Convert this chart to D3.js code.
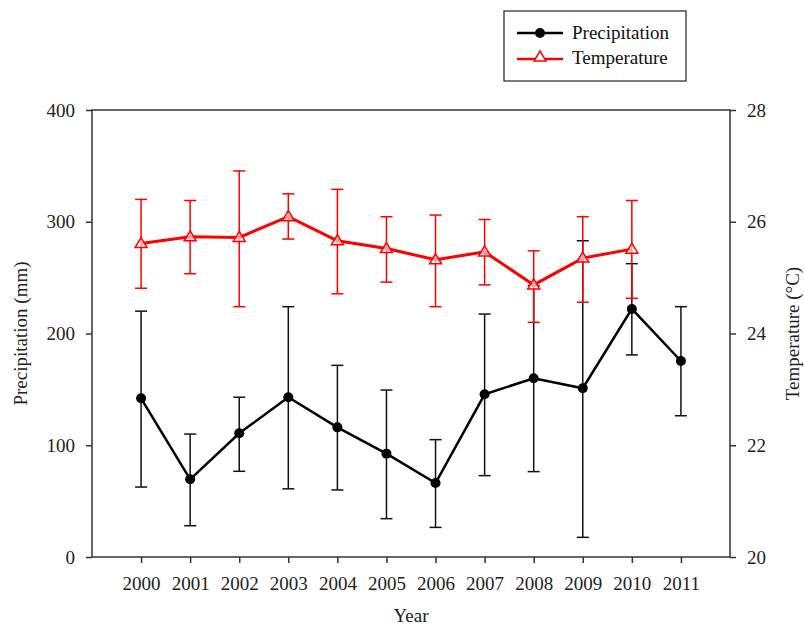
<!DOCTYPE html>
<html><head><meta charset="utf-8">
<script src="https://cdn.jsdelivr.net/npm/d3@7"></script>
<style>body{margin:0;background:#fff}svg{display:block}text{font-family:"Liberation Serif","Times New Roman",serif}</style>
</head><body>
<svg id="c" width="804" height="629"></svg>
<script>
const years = [2000,2001,2002,2003,2004,2005,2006,2007,2008,2009,2010,2011];
const precip = [142,69.5,110.7,143,116,92.5,66.2,145.6,160,151,222,175.4];
const precipHi = [220,110,143,224,171.5,149.4,105,217.4,243,283,262.5,224];
const precipLo = [62.6,28,76.7,61,60,34.3,26.5,72.8,76.4,17.6,180.8,126.4];
const tempYears = [2000,2001,2002,2003,2004,2005,2006,2007,2008,2009,2010];
const temp = [25.61,25.73,25.72,26.09,25.66,25.52,25.32,25.46,24.87,25.35,25.51];
const tempHi = [26.40,26.38,26.91,26.50,26.58,26.09,26.12,26.04,25.48,26.09,26.38];
const tempLo = [24.81,25.07,24.48,25.69,24.71,24.92,24.48,24.87,24.20,24.56,24.63];
const precipTicks = [0,100,200,300,400];
const tempTicks = [20,22,24,26,28];

const svg = d3.select("#c");
const L=92, R=730, T=110, B=557;
const x = d3.scaleLinear().domain([1999,2012]).range([L,R]);
const yP = d3.scaleLinear().domain([0,400]).range([B,T]);
const yT = d3.scaleLinear().domain([20,28]).range([B,T]);
const axisCol = "#333";
const fs = "19px";

// frame
svg.append("rect").attr("x",L).attr("y",T).attr("width",R-L).attr("height",B-T)
  .attr("fill","none").attr("stroke",axisCol).attr("stroke-width",1.5);

function styleAxis(g){
  g.select(".domain").remove();
  g.selectAll(".tick line").attr("stroke",axisCol).attr("stroke-width",1.5);
  g.selectAll(".tick text").attr("fill","#222").style("font-size",fs).style("font-family","'Liberation Serif',serif");
}
svg.append("g").attr("transform",`translate(${L},0)`)
  .call(d3.axisLeft(yP).tickValues(precipTicks).tickSize(6).tickPadding(11).tickFormat(d3.format("d")))
  .call(styleAxis);
svg.append("g").attr("transform",`translate(${R},0)`)
  .call(d3.axisRight(yT).tickValues(tempTicks).tickSize(6).tickPadding(11).tickFormat(d3.format("d")))
  .call(styleAxis);
svg.append("g").attr("transform",`translate(0,${B})`)
  .call(d3.axisBottom(x).tickValues(years).tickSize(6).tickPadding(14).tickFormat(d3.format("d")))
  .call(styleAxis);

// axis titles
svg.append("text").attr("x",411).attr("y",622).attr("text-anchor","middle").style("font-size",fs).attr("fill","#222").text("Year");
svg.append("text").attr("transform",`translate(27,${(T+B)/2}) rotate(-90)`).attr("text-anchor","middle").style("font-size",fs).attr("fill","#222").text("Precipitation (mm)");
svg.append("text").attr("transform",`translate(799,${(T+B)/2}) rotate(-90)`).attr("text-anchor","middle").style("font-size",fs).attr("fill","#222").text("Temperature (°C)");

// precipitation error bars
const cap = 6;
const pg = svg.append("g");
years.forEach((yr,i)=>{
  const cx = x(yr);
  pg.append("line").attr("x1",cx).attr("x2",cx).attr("y1",yP(precipLo[i])).attr("y2",yP(precipHi[i])).attr("stroke","#111").attr("stroke-width",1.5);
  [precipLo[i],precipHi[i]].forEach(v=>pg.append("line").attr("x1",cx-cap).attr("x2",cx+cap).attr("y1",yP(v)).attr("y2",yP(v)).attr("stroke","#111").attr("stroke-width",1.5));
});
pg.append("path").datum(years.map((yr,i)=>[x(yr),yP(precip[i])]))
  .attr("d",d3.line()).attr("fill","none").attr("stroke","#000").attr("stroke-width",2.5);
pg.selectAll("circle").data(years).join("circle").attr("cx",d=>x(d)).attr("cy",(d,i)=>yP(precip[i])).attr("r",5).attr("fill","#000");

// temperature
const tg = svg.append("g");
tempYears.forEach((yr,i)=>{
  const cx = x(yr);
  tg.append("line").attr("x1",cx).attr("x2",cx).attr("y1",yT(tempLo[i])).attr("y2",yT(tempHi[i])).attr("stroke","#f00").attr("stroke-width",1.5);
  [tempLo[i],tempHi[i]].forEach(v=>tg.append("line").attr("x1",cx-cap).attr("x2",cx+cap).attr("y1",yT(v)).attr("y2",yT(v)).attr("stroke","#f00").attr("stroke-width",1.5));
});
tg.append("path").datum(tempYears.map((yr,i)=>[x(yr),yT(temp[i])]))
  .attr("d",d3.line()).attr("fill","none").attr("stroke","#f00").attr("stroke-width",3);
const tri = "M0,-6L6,4L-6,4Z";
tg.selectAll("path.tri").data(tempYears).join("path").attr("class","tri")
  .attr("transform",(d,i)=>`translate(${x(d)},${yT(temp[i])})`).attr("d",tri)
  .attr("fill","#fff").attr("fill-opacity",0.6).attr("stroke","#f00").attr("stroke-width",1.5);

// legend
const lg = svg.append("g");
lg.append("rect").attr("x",504).attr("y",11).attr("width",182).attr("height",70).attr("fill","#fff").attr("stroke","#222").attr("stroke-width",1.2);
lg.append("line").attr("x1",517).attr("x2",563).attr("y1",33).attr("y2",33).attr("stroke","#000").attr("stroke-width",2.5);
lg.append("circle").attr("cx",540).attr("cy",33).attr("r",5).attr("fill","#000");
lg.append("text").attr("x",572).attr("y",39).style("font-size",fs).attr("fill","#111").text("Precipitation");
lg.append("line").attr("x1",517).attr("x2",563).attr("y1",59).attr("y2",59).attr("stroke","#f00").attr("stroke-width",2.5);
lg.append("path").attr("transform","translate(540,57)").attr("d",tri).attr("fill","#fff").attr("stroke","#f00").attr("stroke-width",1.5);
lg.append("text").attr("x",572).attr("y",64).style("font-size",fs).attr("fill","#111").text("Temperature");
</script>
</body></html>
